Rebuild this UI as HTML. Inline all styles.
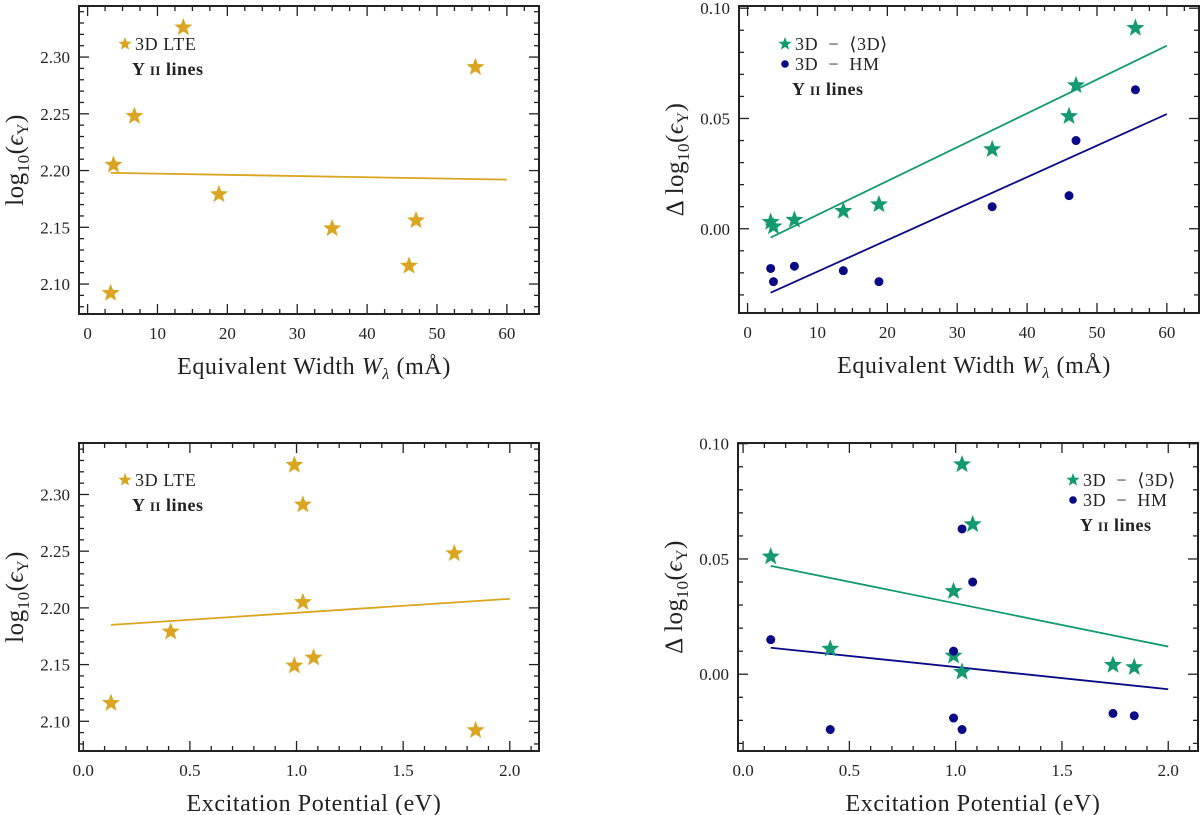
<!DOCTYPE html>
<html><head><meta charset="utf-8"><style>
html,body{margin:0;padding:0;background:#fff;}
svg{display:block;font-family:"Liberation Serif",serif;}
text{white-space:pre;}
</style></head><body>
<svg id="fig" width="1200" height="815" viewBox="0 0 1200 815" xmlns="http://www.w3.org/2000/svg"></svg>
<script>
// ---- data ----
const ewValues = [3.3, 3.7, 6.7, 13.7, 18.8, 35, 46, 47, 55.5];
const epValues = [1.84, 1.03, 1.74, 0.99, 0.41, 0.99, 0.13, 1.08, 1.03];
const lteAbund = [2.092, 2.205, 2.248, 2.326, 2.179, 2.149, 2.116, 2.156, 2.291];
const diff3D = [0.003, 0.001, 0.004, 0.008, 0.011, 0.036, 0.051, 0.065, 0.091];
const diffHM = [-0.018, -0.024, -0.017, -0.019, -0.024, 0.010, 0.015, 0.040, 0.063];
const fitLteEW = [[3.3, 2.198], [60, 2.192]];
const fit3DEW = [[3.3, -0.004], [60, 0.083]];
const fitHMEW = [[3.3, -0.029], [60, 0.052]];
const fitLteEP = [[0.13, 2.185], [2.0, 2.208]];
const fit3DEP = [[0.13, 0.047], [2.0, 0.012]];
const fitHMEP = [[0.13, 0.0115], [2.0, -0.0065]];
const ewTicks = [0, 10, 20, 30, 40, 50, 60];
const epTicks = [0.0, 0.5, 1.0, 1.5, 2.0];
const absTicks = [2.10, 2.15, 2.20, 2.25, 2.30];
const diffTicks = [0.00, 0.05, 0.10];

const GOLD = '#daa520', GREEN = '#139a72', NAVY = '#0a0a86';
const svg = document.getElementById('fig');
const NS = 'http://www.w3.org/2000/svg';
function mk(tag, attrs, parent) {
  const e = document.createElementNS(NS, tag);
  for (const k in attrs) e.setAttribute(k, attrs[k]);
  (parent || svg).appendChild(e);
  return e;
}
function starPath(cx, cy, R) {
  const r = R * 0.42; let d = '';
  for (let i = 0; i < 10; i++) {
    const a = -Math.PI / 2 + i * Math.PI / 5, rr = i % 2 ? r : R;
    d += (i ? 'L' : 'M') + (cx + rr * Math.cos(a)).toFixed(2) + ',' + (cy + rr * Math.sin(a)).toFixed(2);
  }
  return d + 'Z';
}

function panel(cfg) {
  const g = mk('g', {});
  
  
  const {L, R, T, B, xmin, xmax, ymin, ymax} = cfg;
  const sx = v => L + (v - xmin) / (xmax - xmin) * (R - L);
  const sy = v => B - (v - ymin) / (ymax - ymin) * (B - T);
  const frame = mk('rect', {x: L, y: T, width: R - L, height: B - T, fill: 'none', stroke: '#222', 'stroke-width': 2}, g);
  
  
  const xs = cfg.xMinor;
  for (let v = Math.ceil(xmin / xs) * xs; v <= xmax + 1e-9; v += xs) {
    const isMaj = Math.abs(v / cfg.xMajor - Math.round(v / cfg.xMajor)) < 1e-6;
    const len = isMaj ? 10 : 5, x = sx(v);
    mk('line', {x1: x, x2: x, y1: B, y2: B - len, stroke: '#222', 'stroke-width': 1.3}, g);
    mk('line', {x1: x, x2: x, y1: T, y2: T + len, stroke: '#222', 'stroke-width': 1.3}, g);
  }
  const ys = cfg.yMinor;
  for (let v = Math.ceil(ymin / ys - 1e-6) * ys; v <= ymax + 1e-9; v += ys) {
    const isMaj = Math.abs(v / cfg.yMajor - Math.round(v / cfg.yMajor)) < 1e-4;
    const len = isMaj ? 10 : 5, y = sy(v);
    mk('line', {x1: L, x2: L + len, y1: y, y2: y, stroke: '#222', 'stroke-width': 1.3}, g);
    mk('line', {x1: R, x2: R - len, y1: y, y2: y, stroke: '#222', 'stroke-width': 1.3}, g);
  }
  cfg.xTicks.forEach(v => {
    const t = mk('text', {x: sx(v), y: B + 25, 'text-anchor': 'middle', 'font-size': 17, fill: '#222'}, g);
    t.textContent = cfg.xFmt(v);
    
    
  });
  cfg.yTicks.forEach(v => {
    const t = mk('text', {x: L - 9, y: sy(v) + 6, 'text-anchor': 'end', 'font-size': 17, fill: '#222'}, g);
    t.textContent = v.toFixed(2);
    
    
  });
  const xl = mk('text', {x: (L + R) / 2 + 5, y: B + 60, 'text-anchor': 'middle', 'font-size': 24, 'letter-spacing': 0.6, fill: '#222'}, g);
  xl.innerHTML = cfg.xLabel;
  
  
  const yc = (T + B) / 2, yx = L - 56;
  const yl = mk('text', {x: yx, y: yc, 'text-anchor': 'middle', 'font-size': 25, 'letter-spacing': 0.5, fill: '#222', transform: `rotate(-90 ${yx} ${yc})`}, g);
  yl.innerHTML = cfg.yLabel;
  
  
  cfg.fits.forEach(f => {
    const ln = mk('line', {x1: sx(f.pts[0][0]), y1: sy(f.pts[0][1]), x2: sx(f.pts[1][0]), y2: sy(f.pts[1][1]), stroke: f.color, 'stroke-width': 1.8}, g);
    
    
  });
  cfg.series.forEach(s => {
    s.xs.forEach((xv, i) => {
      let m;
      if (s.marker === 'star') m = mk('path', {d: starPath(sx(xv), sy(s.ys[i]), 9.5), fill: s.color}, g);
      else m = mk('circle', {cx: sx(xv), cy: sy(s.ys[i]), r: 4.5, fill: s.color}, g);
      
      
    });
  });
  const lg = mk('g', {}, g);
  
  
  cfg.legend.items.forEach((it, i) => {
    const lx = cfg.legend.x, ly = cfg.legend.y + i * 20;
    if (it.marker === 'star') mk('path', {d: starPath(lx, ly - 6, 7), fill: it.color}, lg);
    else mk('circle', {cx: lx, cy: ly - 6, r: 3.8, fill: it.color}, lg);
    const t = mk('text', {x: lx + 10, y: ly, 'font-size': 18, 'letter-spacing': 0.6, fill: '#222'}, lg);
    t.textContent = it.label;
    
    
  });
  const yl2 = mk('text', {x: cfg.legend.x + 7, y: cfg.legend.y + cfg.legend.items.length * 20 + 5, 'font-size': 18, 'font-weight': 'bold', 'letter-spacing': 0.5, fill: '#222'}, lg);
  yl2.innerHTML = 'Y <tspan font-size="13">II</tspan> lines';
  
  
}

const ewFmt = v => String(v), epFmt = v => v.toFixed(1);
const ewLabel = 'Equivalent Width <tspan font-style="italic">W</tspan><tspan font-size="16" dy="5" font-style="italic">λ</tspan><tspan dy="-5"> (mÅ)</tspan>';
const epLabel = 'Excitation Potential (eV)';
const absLabel = 'log<tspan font-size="17" dy="6">10</tspan><tspan dy="-6">(</tspan><tspan font-style="italic">ϵ</tspan><tspan font-size="16" dy="5">Y</tspan><tspan dy="-5">)</tspan>';
const diffLabel = 'Δ log<tspan font-size="17" dy="6">10</tspan><tspan dy="-6">(</tspan><tspan font-style="italic">ϵ</tspan><tspan font-size="16" dy="5">Y</tspan><tspan dy="-5">)</tspan>';
const lteLegend = [{marker: 'star', color: GOLD, label: '3D LTE'}];
const diffLegend = [{marker: 'star', color: GREEN, label: '3D  −  ⟨3D⟩'}, {marker: 'circle', color: NAVY, label: '3D  −  HM'}];

panel({name: 'panel-lte-vs-ew', L: 79, R: 539, T: 6, B: 314, xmin: -1.23, xmax: 64.6, ymin: 2.0736, ymax: 2.345,
  xMajor: 10, xMinor: 2.5, yMajor: 0.05, yMinor: 0.01, xTicks: ewTicks, yTicks: absTicks, xFmt: ewFmt,
  xLabel: ewLabel, yLabel: absLabel,
  fits: [{name: 'lte-fit-line', pts: fitLteEW, color: GOLD}],
  series: [{name: 'lte', marker: 'star', color: GOLD, xs: ewValues, ys: lteAbund}],
  legend: {x: 125, y: 50, items: lteLegend}});

panel({name: 'panel-diff-vs-ew', L: 739, R: 1199, T: 6, B: 313, xmin: -1.23, xmax: 64.6, ymin: -0.0382, ymax: 0.101,
  xMajor: 10, xMinor: 2.5, yMajor: 0.05, yMinor: 0.01, xTicks: ewTicks, yTicks: diffTicks, xFmt: ewFmt,
  xLabel: ewLabel, yLabel: diffLabel,
  fits: [{name: '3d-mean-fit-line', pts: fit3DEW, color: GREEN}, {name: 'hm-fit-line', pts: fitHMEW, color: NAVY}],
  series: [{name: 'diff-3d-mean', marker: 'star', color: GREEN, xs: ewValues, ys: diff3D},
           {name: 'diff-hm', marker: 'circle', color: NAVY, xs: ewValues, ys: diffHM}],
  legend: {x: 785, y: 50, items: diffLegend}});

panel({name: 'panel-lte-vs-ep', L: 79, R: 539, T: 443, B: 751, xmin: -0.02, xmax: 2.137, ymin: 2.0738, ymax: 2.3454,
  xMajor: 0.5, xMinor: 0.1, yMajor: 0.05, yMinor: 0.01, xTicks: epTicks, yTicks: absTicks, xFmt: epFmt,
  xLabel: epLabel, yLabel: absLabel,
  fits: [{name: 'lte-fit-line', pts: fitLteEP, color: GOLD}],
  series: [{name: 'lte', marker: 'star', color: GOLD, xs: epValues, ys: lteAbund}],
  legend: {x: 125, y: 486, items: lteLegend}});

panel({name: 'panel-diff-vs-ep', L: 738, R: 1198, T: 443, B: 751, xmin: -0.024, xmax: 2.14, ymin: -0.0333, ymax: 0.1003,
  xMajor: 0.5, xMinor: 0.1, yMajor: 0.05, yMinor: 0.01, xTicks: epTicks, yTicks: diffTicks, xFmt: epFmt,
  xLabel: epLabel, yLabel: diffLabel,
  fits: [{name: '3d-mean-fit-line', pts: fit3DEP, color: GREEN}, {name: 'hm-fit-line', pts: fitHMEP, color: NAVY}],
  series: [{name: 'diff-3d-mean', marker: 'star', color: GREEN, xs: epValues, ys: diff3D},
           {name: 'diff-hm', marker: 'circle', color: NAVY, xs: epValues, ys: diffHM}],
  legend: {x: 1073, y: 486, items: diffLegend}});
</script>
</body></html>
